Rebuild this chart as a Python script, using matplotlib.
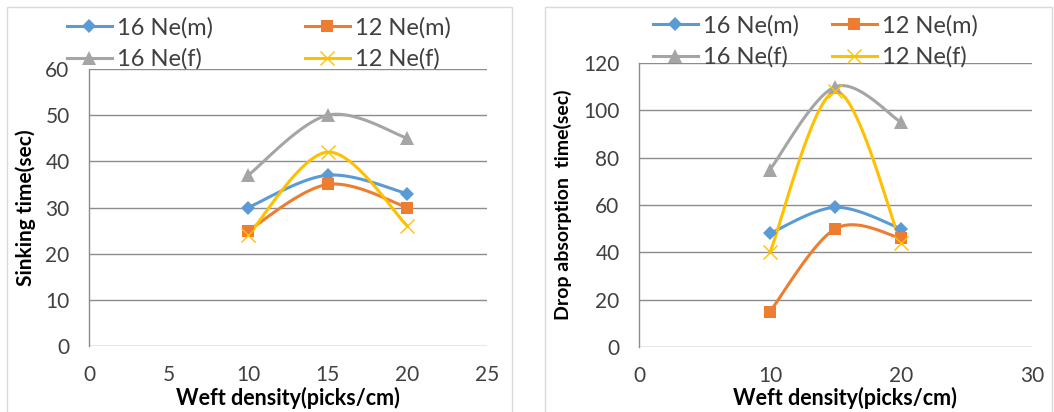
import numpy as np
import matplotlib
matplotlib.use("Agg")
import matplotlib.pyplot as plt
from matplotlib.lines import Line2D
from matplotlib.patches import Rectangle

# ---------------- data ----------------
weft = [10, 15, 20]
series_names = ["16 Ne(m)", "12 Ne(m)", "16 Ne(f)", "12 Ne(f)"]

sink_16m = [30, 37, 33]
sink_12m = [25, 35, 30]
sink_16f = [37, 50, 45]
sink_12f = [24, 42, 26]

drop_16m = [48, 59, 50]
drop_12m = [15, 50, 46]
drop_16f = [75, 110, 95]
drop_12f = [40, 108, 44]

left_xticks = [0, 5, 10, 15, 20, 25]
left_yticks = [0, 10, 20, 30, 40, 50, 60]
right_xticks = [0, 10, 20, 30]
right_yticks = [0, 20, 40, 60, 80, 100, 120]

# ---------------- style ----------------
plt.rcParams['font.family'] = ['Lato', 'DejaVu Sans']
colors = ["#5B9BD5", "#ED7D31", "#A5A5A5", "#FFC000"]
markers = ["D", "s", "^", "x"]
msizes = [7.5, 8.5, 9.5, 10]
GRID = "#8c8c8c"
TICKC = "#404040"


def excel_smooth(x, y, n=50):
    pts = np.column_stack([x, y]).astype(float)
    out = []
    for i in range(len(pts) - 1):
        p0 = pts[i - 1] if i > 0 else pts[i]
        p1 = pts[i]
        p2 = pts[i + 1]
        p3 = pts[i + 2] if i + 2 < len(pts) else pts[i + 1]
        c1 = p1 + (p2 - p0) / 6.0
        c2 = p2 - (p3 - p1) / 6.0
        t = np.linspace(0, 1, n)[:, None]
        seg = ((1 - t) ** 3) * p1 + 3 * ((1 - t) ** 2) * t * c1 \
            + 3 * (1 - t) * t ** 2 * c2 + t ** 3 * p2
        out.append(seg if i == 0 else seg[1:])
    s = np.vstack(out)
    return s[:, 0], s[:, 1]


W, H = 1054, 412
fig = plt.figure(figsize=(W / 100, H / 100), dpi=100)

# panel borders
for (x0, x1) in [(7, 512), (545, 1051.5)]:
    fig.patches.append(Rectangle((x0 / W, -0.02), (x1 - x0) / W, 1 - 7 / H + 0.02,
                                 transform=fig.transFigure, fill=False,
                                 edgecolor="#d9d9d9", lw=1.0))


def make_panel(rect, data, xlim, xticks, ylim, yticks, ylabel, ylab_size,
               ylab_x, xlab_x, xlab_y, leg1, leg2, leg_rows):
    ax = fig.add_axes(rect)
    ax.set_xlim(*xlim)
    ax.set_ylim(*ylim)
    ax.set_xticks(xticks)
    ax.set_yticks(yticks)
    ax.grid(axis='y', color=GRID, lw=1.0)
    ax.set_axisbelow(True)
    for sp in ['top', 'right', 'bottom']:
        ax.spines[sp].set_visible(False)
    ax.spines['left'].set_color(GRID)
    ax.spines['left'].set_linewidth(1.0)
    ax.tick_params(axis='both', length=0, labelsize=15, labelcolor=TICKC)
    ax.tick_params(axis='x', pad=14)
    ax.tick_params(axis='y', pad=14)
    handles = []
    for vals, c, m, ms, name in zip(data, colors, markers, msizes, series_names):
        sx, sy = excel_smooth(weft, vals)
        ax.plot(sx, sy, color=c, lw=2.2, solid_capstyle='round', zorder=3)
        ax.plot(weft, vals, linestyle='none', marker=m, markersize=ms,
                color=c, markeredgewidth=(1.0 if m == 'x' else 0), zorder=4,
                clip_on=False)
        handles.append(Line2D([], [], color=c, lw=2.2, marker=m, markersize=ms,
                              markeredgewidth=(1.0 if m == 'x' else 0)))
    ax.set_xlabel("Weft density(picks/cm)", fontsize=15.5, fontweight='bold')
    ax.set_ylabel(ylabel, fontsize=ylab_size, fontweight='bold')
    ax.xaxis.label.set_va('center')
    ax.yaxis.label.set_va('center')
    ax.xaxis.set_label_coords(xlab_x, xlab_y)
    ax.yaxis.set_label_coords(ylab_x, 0.5)
    # legends: two columns placed separately
    for (lx, idxs) in [(leg1, [0, 2]), (leg2, [1, 3])]:
        fig.legend([handles[i] for i in idxs], [series_names[i] for i in idxs],
                   loc='upper left', bbox_to_anchor=(lx / W, 1 - leg_rows / H),
                   frameon=False, fontsize=17, handlelength=1.9,
                   handletextpad=0.2, labelspacing=0.42, borderpad=0,
                   borderaxespad=0, labelcolor=TICKC)
    return ax


make_panel([89 / W, (H - 346) / H, 398 / W, 277 / H],
           [sink_16m, sink_12m, sink_16f, sink_12f],
           (0, 25), left_xticks, (0, 60), left_yticks, "Sinking time(sec)", 15,
           (26 - 89) / 398, 0.5, (346 - 398) / 277, 67, 305, 17)

make_panel([639 / W, (H - 347) / H, 393 / W, 284 / H],
           [drop_16m, drop_12m, drop_16f, drop_12f],
           (0, 30), right_xticks, (0, 120), right_yticks,
           "Drop absorption  time(sec)", 14,
           (563 - 639) / 393, (845 - 639) / 393, (347 - 398) / 284, 653, 832, 15)

fig.savefig("out.png", dpi=100)
